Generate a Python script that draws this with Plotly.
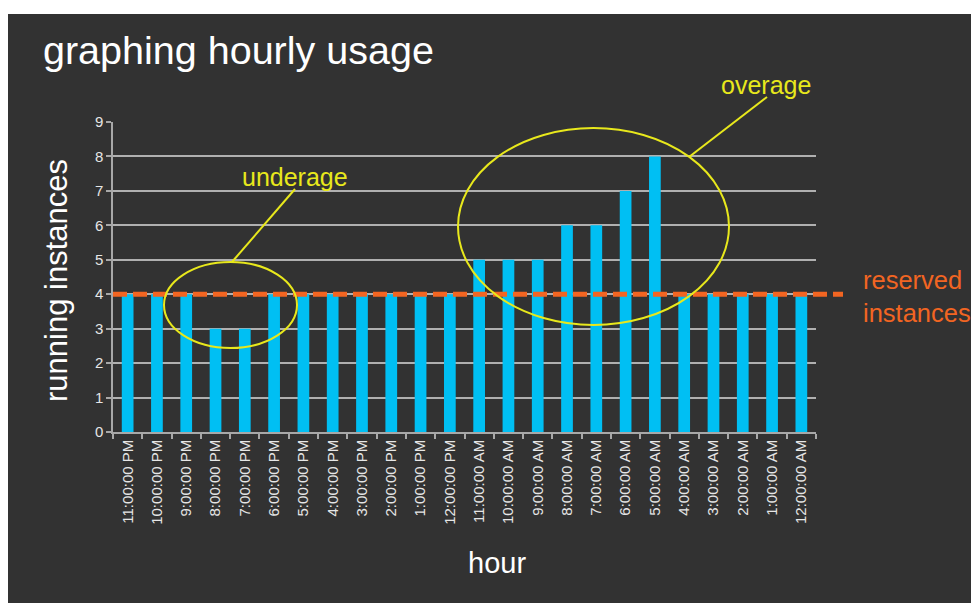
import plotly.graph_objects as go

hours = ["11:00:00 PM", "10:00:00 PM", "9:00:00 PM", "8:00:00 PM", "7:00:00 PM",
         "6:00:00 PM", "5:00:00 PM", "4:00:00 PM", "3:00:00 PM", "2:00:00 PM",
         "1:00:00 PM", "12:00:00 PM", "11:00:00 AM", "10:00:00 AM", "9:00:00 AM",
         "8:00:00 AM", "7:00:00 AM", "6:00:00 AM", "5:00:00 AM", "4:00:00 AM",
         "3:00:00 AM", "2:00:00 AM", "1:00:00 AM", "12:00:00 AM"]
instances = [4, 4, 4, 3, 3, 4, 4, 4, 4, 4, 4, 4, 5, 5, 5, 6, 6, 7, 8, 4, 4, 4, 4, 4]
reserved = 4
y_ticks = [0, 1, 2, 3, 4, 5, 6, 7, 8, 9]

W, H = 971, 603
L, R, T, B = 113, 816, 122, 432  # plot area in page pixels


def px(x):
    return (x - L) / (R - L)


def py(y):
    return (B - y) / (B - T)


BG = "#323232"
YEL = "#e8e81c"
ORA = "#f26522"
FONT = "Liberation Sans, Arial, sans-serif"

fig = go.Figure()
fig.add_trace(go.Bar(x=hours, y=instances, marker=dict(color="#00bff3", line=dict(width=0)),
                     hoverinfo="x+y"))

shapes = [
    # white strips on top / left
    dict(type="rect", xref="paper", yref="paper", x0=px(0), x1=px(W), y0=py(14), y1=py(0),
         fillcolor="white", line=dict(width=0), layer="above"),
    dict(type="rect", xref="paper", yref="paper", x0=px(0), x1=px(8), y0=py(H), y1=py(0),
         fillcolor="white", line=dict(width=0), layer="above"),
    # reserved line
    dict(type="line", xref="paper", yref="paper", x0=px(113), x1=px(843),
         y0=reserved / 9, y1=reserved / 9, line=dict(color=ORA, width=5, dash="14px,6px"),
         layer="above"),
    # underage ellipse + pointer
    dict(type="circle", xref="paper", yref="paper", x0=px(164), x1=px(297), y0=py(348), y1=py(262),
         line=dict(color=YEL, width=2), layer="above"),
    dict(type="line", xref="paper", yref="paper", x0=px(232), x1=px(295), y0=py(262), y1=py(189),
         line=dict(color=YEL, width=2), layer="above"),
    # overage ellipse + pointer
    dict(type="circle", xref="paper", yref="paper", x0=px(458), x1=px(729), y0=py(325), y1=py(128),
         line=dict(color=YEL, width=2), layer="above"),
    dict(type="line", xref="paper", yref="paper", x0=px(689), x1=px(767), y0=py(157), y1=py(97),
         line=dict(color=YEL, width=2), layer="above"),
]

annotations = [
    dict(text="graphing hourly usage", x=px(41), y=py(50), xanchor="left", yanchor="middle",
         font=dict(size=39.5, color="white", family=FONT)),
    dict(text="running instances", x=px(56), y=py(281), xanchor="center", yanchor="middle",
         textangle=-90, font=dict(size=31, color="white", family=FONT)),
    dict(text="hour", x=px(497), y=py(563), xanchor="center", yanchor="middle",
         font=dict(size=29, color="white", family=FONT)),
    dict(text="underage", x=px(295), y=py(177), xanchor="center", yanchor="middle",
         font=dict(size=25, color=YEL, family=FONT)),
    dict(text="overage", x=px(766), y=py(85), xanchor="center", yanchor="middle",
         font=dict(size=25, color=YEL, family=FONT)),
    dict(text="reserved<br>instances", x=px(861), y=py(296), xanchor="left", yanchor="middle",
         align="left", font=dict(size=25.5, color=ORA, family=FONT)),
]
for a in annotations:
    a.update(xref="paper", yref="paper", showarrow=False)

fig.update_layout(
    width=W, height=H,
    margin=dict(l=L, r=W - R, t=T, b=H - B, pad=0),
    paper_bgcolor=BG, plot_bgcolor=BG,
    bargap=0.6,
    showlegend=False,
    shapes=shapes,
    annotations=annotations,
    font=dict(family=FONT, color="#e6e6e6"),
    xaxis=dict(type="category", tickangle=-90, tickson="boundaries", ticks="outside",
               ticklen=5, tickcolor="#a8a8a8", tickwidth=1.5, showline=True, linecolor="#a8a8a8",
               linewidth=1.5, showgrid=False, tickfont=dict(size=15, color="#e6e6e6"),
               fixedrange=True),
    yaxis=dict(range=[0, 9], tickvals=y_ticks, ticks="outside", ticklen=5, tickcolor="#a8a8a8",
               tickwidth=1.5, showline=True, linecolor="#a8a8a8", linewidth=1.5,
               showgrid=True, gridcolor="#b0b0b0", gridwidth=1.5, zeroline=False,
               tickfont=dict(size=15, color="#e6e6e6"), fixedrange=True),
)

fig.write_html("out.html", config={"displayModeBar": False},
               post_script="document.body.style.margin='0';document.body.style.overflow='hidden';")
